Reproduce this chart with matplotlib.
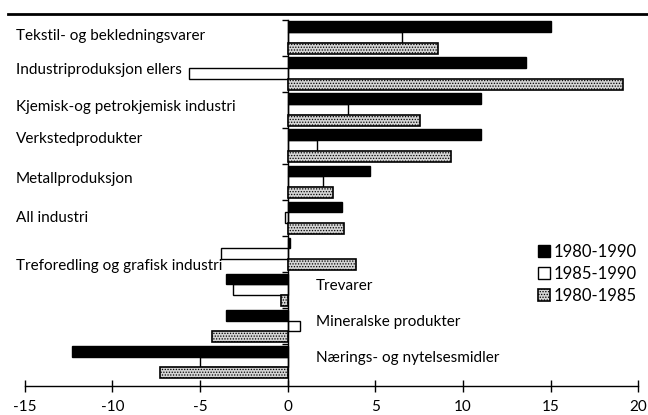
import numpy as np
import matplotlib
matplotlib.use("Agg")
import matplotlib.pyplot as plt
from matplotlib.lines import Line2D

categories = ["Tekstil- og bekledningsvarer", "Industriproduksjon ellers",
              "Kjemisk-og petrokjemisk industri", "Verkstedprodukter",
              "Metallproduksjon", "All industri",
              "Treforedling og grafisk industri", "Trevarer",
              "Mineralske produkter", "Nærings- og nytelsesmidler"]
series_names = ["1980-1990", "1985-1990", "1980-1985"]
v_80_90 = [15.0, 13.6, 11.0, 11.0, 4.7, 3.1, 0.15, -3.55, -3.55, -12.3]
v_85_90 = [6.5, -5.65, 3.45, 1.65, 2.0, -0.15, -3.8, -3.1, 0.7, -5.0]
v_80_85 = [8.6, 19.1, 7.55, 9.3, 2.6, 3.2, 3.9, -0.4, -4.3, -7.3]
x_ticks = [-15, -10, -5, 0, 5, 10, 15, 20]

plt.rcParams["font.family"] = ["Lato", "DejaVu Sans"]
plt.rcParams["axes.unicode_minus"] = False
plt.rcParams["hatch.linewidth"] = 0.6

fig = plt.figure(figsize=(6.48, 4.15), dpi=100)
ax = fig.add_axes([0.0383, 0.0708, 0.985 - 0.0383, 0.953 - 0.0708])

y = np.arange(len(categories))
h = 0.3
ax.barh(y - h, v_80_90, height=h, color="black", edgecolor="black",
        linewidth=1, label=series_names[0], zorder=3)
ax.barh(y, v_85_90, height=h, color="white", edgecolor="black",
        linewidth=1, label=series_names[1], zorder=2)
ax.barh(y + h, v_80_85, height=h, color="#d4d4d4", edgecolor="black",
        hatch="......", linewidth=1.2, label=series_names[2], zorder=3)

ax.set_xlim(-15, 20)
ax.set_ylim(9.655, -0.5)

# category labels: left side for most, right of zero for the last three
left_off = [-0.04, -0.1, -0.08, -0.19, -0.08, 0.0, 0.33]
for i, off in enumerate(left_off):
    ax.text(-15.5, i + off, categories[i], ha="left", va="center",
            fontsize=11)
for i in range(7, 10):
    ax.text(1.6, i - 0.12, categories[i], ha="left", va="center",
            fontsize=11)

# axes styling
for s in ["top", "right"]:
    ax.spines[s].set_visible(False)
ax.spines["left"].set_position(("data", 0))
ax.spines["left"].set_linewidth(1)
ax.spines["bottom"].set_linewidth(1)
ax.set_yticks(np.arange(-0.5, 9.5, 1.0))
ax.tick_params(axis="y", direction="out", length=4, width=1, labelleft=False)
ax.set_xticks(x_ticks)
ax.tick_params(axis="x", direction="inout", length=9, width=1,
               labelsize=11, pad=6)

ax.legend(loc="upper left", bbox_to_anchor=(0.826, 0.405), frameon=False,
          handlelength=0.7, handleheight=0.7, handletextpad=0.2,
          labelspacing=0.35, fontsize=12, borderaxespad=0)

fig.add_artist(Line2D([0.012, 1.0], [1 - 14 / 415, 1 - 14 / 415],
                      color="black", linewidth=2))

fig.savefig("out.png", dpi=100)
